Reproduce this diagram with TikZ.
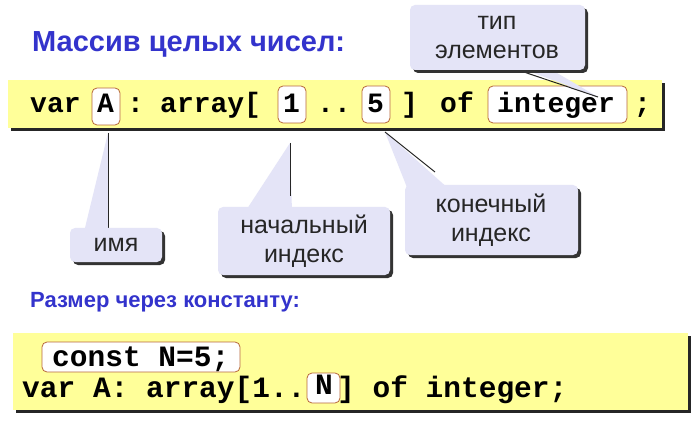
\documentclass[tikz,border=0pt]{standalone}
\usepackage{fontspec}
\setmainfont{Liberation Sans}
\setmonofont{Liberation Mono}
\begin{document}
\begin{tikzpicture}[x=1pt,y=-1pt,
  code/.style={font=\ttfamily\bfseries\fontsize{28}{28}\selectfont,inner sep=0pt,anchor=base west},
  codeb/.style={font=\ttfamily\bfseries\fontsize{29.5}{29.5}\selectfont,inner sep=0pt,anchor=base west},
  hbox/.style={draw=boxbrown,fill=white,rounded corners=5pt,line width=0.8pt},
  call/.style={fill=lav,rounded corners=5pt},
  callshadow/.style={fill=black!80,rounded corners=5pt},
  ctext/.style={font=\fontsize{25}{29}\selectfont,align=center,text=black!85},
  ttl/.style={font=\bfseries\fontsize{29}{29}\selectfont,text=ttlblue,anchor=base west,inner sep=0pt}]
\definecolor{lav}{HTML}{E4E4F7}
\definecolor{boxbrown}{HTML}{B8683A}
\definecolor{ttlblue}{HTML}{3333CC}
\definecolor{yelband}{HTML}{FFFF99}
\useasboundingbox (0,0) rectangle (700,427);
\fill[white] (0,0) rectangle (700,427);
% title
\node[ttl] (title) at (32,52) {Массив целых чисел:};
% band 1
\fill[black!85] (11,83) rectangle (665,131);
\fill[yelband] (8,80) rectangle (662,128);
\draw[hbox] (92,88) rectangle (120,125);
\draw[hbox] (278,86) rectangle (306,123);
\draw[hbox] (362,86) rectangle (390,123);
\draw[hbox] (488,86) rectangle (627,123);
\node[code] (v1) at (30,113) {var};
\node[code] (a1) at (97,113) {A};
\node[code] (c1) at (127,113) {:};
\node[code] (arr) at (160,113) {array[};
\node[code] (one) at (283,113) {1};
\node[code] (dd) at (317,113) {..};
\node[code] (five) at (367,113) {5};
\node[code] (rb) at (401,113) {]};
\node[code] (of) at (440,113) {of};
\node[code] (int) at (497,113) {integer};
\node[code] (sc) at (634,113) {;};
% callout: тип элементов
\fill[lav] (515,66) -- (598,97) -- (545,66) -- cycle;
\draw[black!85,line width=1pt] (512,68) -- (598,97);
\fill[callshadow] (413,8) rectangle (588,73);
\fill[call] (410,5) rectangle (585,70);
\node[ctext] (tip) at (497,38) {тип\\элементов};
% имя
\fill[lav] (108,133) -- (84,232) -- (108,232) -- cycle;
\draw[black!85,line width=1pt] (108,133) -- (108,230);
\fill[callshadow] (73,231) rectangle (165,265);
\fill[call] (70,228) rectangle (162,262);
\node[ctext] (imya) at (116,245) {имя};
% начальный
\fill[lav] (290,143) -- (245,212) -- (292,212) -- cycle;
\draw[black!85,line width=1pt] (290,143) -- (290,196);
\fill[callshadow] (221,210) rectangle (393,278);
\fill[call] (218,207) rectangle (390,275);
\node[ctext] (nach) at (304,241) {начальный\\индекс};
% конечный
\fill[lav] (385,132) -- (410,195) -- (450,190) -- cycle;
\draw[black!85,line width=1pt] (385,132) -- (435,172);
\fill[callshadow] (408,188) rectangle (581,258);
\fill[call] (405,185) rectangle (578,255);
\node[ctext] (kon) at (491,220) {конечный\\индекс};
% subtitle
\node[ttl,font=\bfseries\fontsize{22}{22}\selectfont] (sub) at (30,307) {Размер через константу:};
% band 2
\fill[black!85] (16,336) rectangle (691,413);
\fill[yelband] (13,333) rectangle (688,410);
\draw[hbox] (42,342) rectangle (240,372);
\node[codeb] (cn) at (52,366) {const N=5;};
\draw[hbox] (307,373) rectangle (340,403);
\node[codeb] (l2a) at (22,397) {var A: array[1..};
\node[codeb] (l2n) at (315,394) {N};
\node[codeb] (l2b) at (337,397) {] of integer;};
\end{tikzpicture}
\end{document}
